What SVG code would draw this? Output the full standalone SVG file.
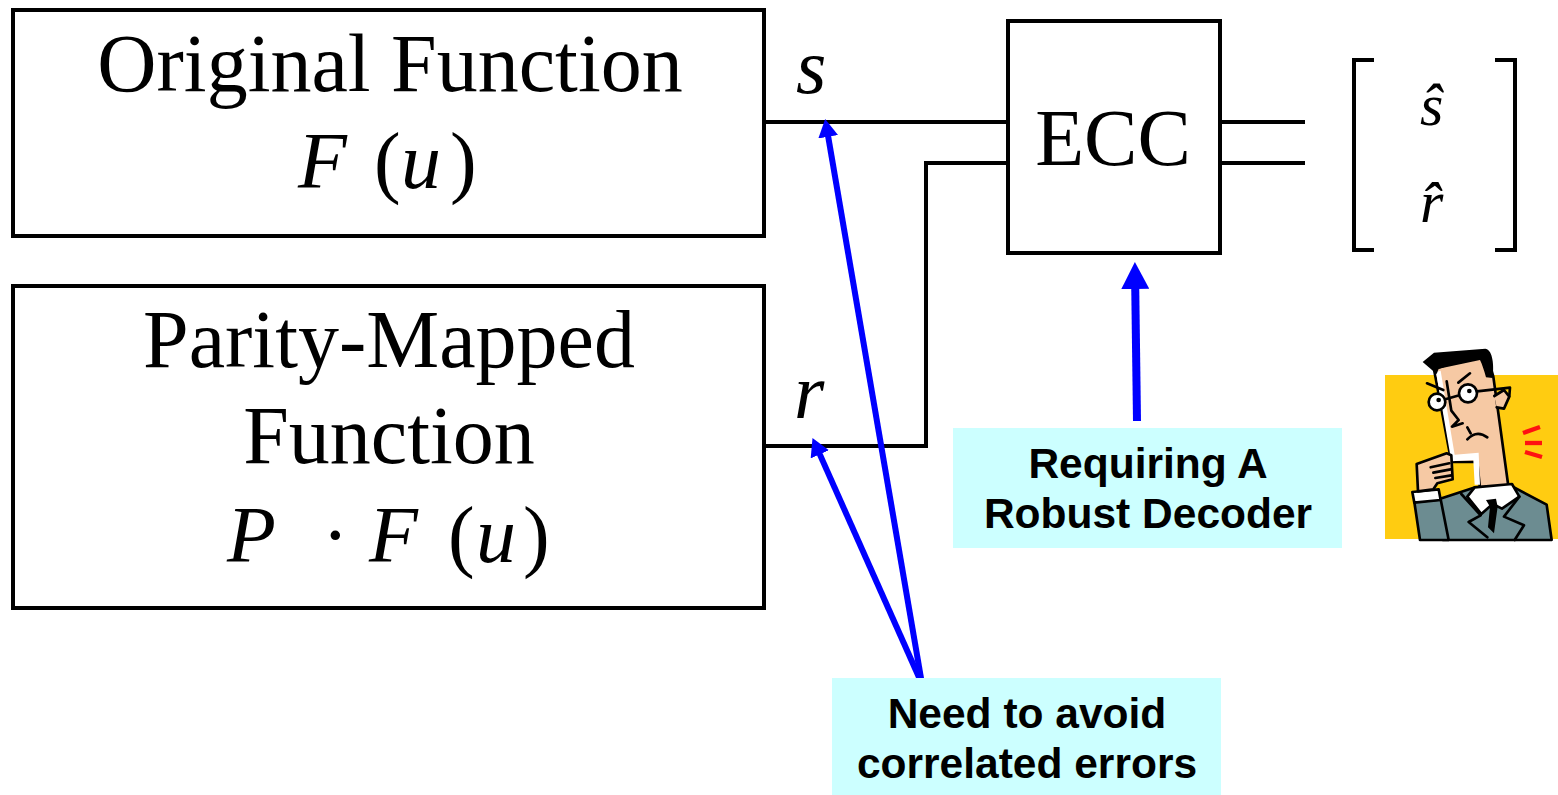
<svg xmlns="http://www.w3.org/2000/svg" width="1558" height="795" viewBox="0 0 1558 795">
  <style>
    .box { fill: #ffffff; stroke: #000000; stroke-width: 4; }
    .wire { fill: none; stroke: #000000; stroke-width: 4; stroke-linejoin: miter; }
    .ptr { fill: none; stroke: #0000ff; stroke-width: 6; }
    .ptr-big { fill: none; stroke: #0000ff; stroke-width: 8; }
    .serif { font-family: "Liberation Serif", "Times New Roman", serif; fill: #000000; }
    .math { font-family: "Liberation Serif", "Times New Roman", serif; font-style: italic; fill: #000000; }
    .note-bg { fill: #ccffff; }
    .note { font-family: "Liberation Sans", Arial, sans-serif; font-weight: bold; font-size: 42.5px; fill: #000000; text-anchor: middle; }
    .ink { stroke: #000000; stroke-width: 8; stroke-linejoin: round; stroke-linecap: round; }
  </style>
  <defs>
    <marker id="head" viewBox="0 0 18 20" refX="3" refY="10" markerWidth="18" markerHeight="20" markerUnits="userSpaceOnUse" orient="auto">
      <path d="M0,0 L18,10 L0,20 Z" fill="#0000ff"/>
    </marker>
    <marker id="head-big" viewBox="0 0 27 28" refX="4" refY="14" markerWidth="27" markerHeight="28" markerUnits="userSpaceOnUse" orient="auto">
      <path d="M0,0 L27,14 L0,28 Z" fill="#0000ff"/>
    </marker>
  </defs>

  <rect width="1558" height="795" fill="#ffffff"/>

  <!-- signal wires and pointers -->
  <g id="connectors">
    <path class="wire" d="M764,122 L1008,122"/>
    <path class="wire" d="M764,446 L926,446 L926,163 L1008,163"/>
    <path class="wire" d="M1220,122 L1305,122"/>
    <path class="wire" d="M1220,163 L1305,163"/>
    <line class="ptr" x1="922" y1="684" x2="827.7" y2="133.8" marker-end="url(#head)"/>
    <line class="ptr" x1="922" y1="684" x2="818.6" y2="451.6" marker-end="url(#head)"/>
    <line class="ptr-big" x1="1137" y1="421" x2="1135.2" y2="285" marker-end="url(#head-big)"/>
  </g>

  <g id="original-function">
    <rect class="box" x="13" y="10" width="751" height="226"/>
    <text class="serif" x="390" y="91" font-size="82" text-anchor="middle">Original Function</text>
    <text class="serif" x="298" y="188" font-size="80"><tspan font-style="italic">F</tspan><tspan x="374">(</tspan><tspan x="401" font-style="italic">u</tspan><tspan x="450">)</tspan></text>
  </g>

  <g id="parity-mapped-function">
    <rect class="box" x="13" y="286" width="751" height="322"/>
    <text class="serif" x="389" y="367" font-size="82" text-anchor="middle">Parity-Mapped</text>
    <text class="serif" x="389" y="463" font-size="82" text-anchor="middle">Function</text>
    <text class="serif" x="227" y="562" font-size="80"><tspan font-style="italic">P</tspan><tspan x="322">·</tspan><tspan x="369" font-style="italic">F</tspan><tspan x="448">(</tspan><tspan x="476" font-style="italic">u</tspan><tspan x="523">)</tspan></text>
  </g>

  <g id="label-s">
    <text class="math" x="796" y="93" font-size="78">s</text>
  </g>
  <g id="label-r">
    <text class="math" x="794" y="418" font-size="78">r</text>
  </g>

  <g id="ecc">
    <rect class="box" x="1008" y="21" width="212" height="232"/>
    <text class="serif" x="1113" y="165" font-size="80" text-anchor="middle">ECC</text>
  </g>

  <g id="decoded-vector">
    <path class="wire" d="M1374,60 L1354,60 L1354,250 L1374,250"/>
    <path class="wire" d="M1495,60 L1515,60 L1515,250 L1495,250"/>
    <text class="math" x="1420" y="125" font-size="60">ŝ</text>
    <text class="math" x="1420" y="222" font-size="60">r̂</text>
  </g>

  <g id="note-decoder">
    <rect class="note-bg" x="953" y="428" width="389" height="120"/>
    <text class="note" x="1148" y="478">Requiring A</text>
    <text class="note" x="1148" y="528">Robust Decoder</text>
  </g>

  <g id="note-correlated">
    <rect class="note-bg" x="832" y="678" width="389" height="117"/>
    <text class="note" x="1027" y="728">Need to avoid</text>
    <text class="note" x="1027" y="778">correlated errors</text>
  </g>

  <!-- worried engineer clip art -->
  <g id="thinker" transform="translate(1380 340) scale(0.3333)">
    <rect x="15" y="105" width="525" height="492" fill="#ffcc11"/>
    <!-- face and neck -->
    <path class="ink" d="M162,88 L318,34 L340,110 L385,438 L300,446 L292,366 L214,366 Z" fill="#f6c9a4"/>
    <!-- highlight along cheek and jaw -->
    <path d="M168,96 L182,92 L224,344 L296,338 L300,434 L284,434 L280,360 L214,364 Z" fill="#ffffff"/>
    <!-- ear -->
    <path class="ink" d="M343,168 L372,150 L388,170 L372,206 L350,202" fill="#f6c9a4"/>
    <!-- hair -->
    <path d="M128,66 L162,38 L316,26 C334,28 344,62 338,114 L318,112 C312,90 306,72 300,60 L176,86 L170,102 Z" fill="#000000"/>
    <!-- brows -->
    <line class="ink" x1="141" y1="130" x2="190" y2="150" stroke-width="12"/>
    <line class="ink" x1="235" y1="128" x2="270" y2="100" stroke-width="12"/>
    <!-- glasses -->
    <line class="ink" x1="196" y1="178" x2="238" y2="166"/>
    <path class="ink" d="M291,154 L390,143 L388,168" fill="none"/>
    <circle class="ink" cx="171" cy="186" r="25" fill="#ffffff"/>
    <circle class="ink" cx="264" cy="160" r="27" fill="#ffffff"/>
    <circle cx="176" cy="180" r="7" fill="#000000"/>
    <circle cx="268" cy="153" r="7" fill="#000000"/>
    <!-- nose -->
    <path class="ink" d="M200,124 L214,212 L236,240 L216,260 L248,250" fill="none"/>
    <!-- frown -->
    <path class="ink" d="M262,298 Q290,268 322,292" fill="none"/>
    <line class="ink" x1="262" y1="262" x2="272" y2="280"/>
    <!-- jacket -->
    <path class="ink" d="M176,478 L286,442 L398,440 L500,494 L515,600 L190,600 Z" fill="#6c8c91"/>
    <!-- shirt collar -->
    <path class="ink" d="M284,442 L396,432 L418,470 L366,506 L338,492 L304,522 L262,470 Z" fill="#ffffff"/>
    <!-- tie -->
    <path d="M318,480 L348,476 L353,500 L342,580 L324,562 L330,500 Z" fill="#000000"/>
    <!-- lapels -->
    <path class="ink" d="M244,462 L302,526 L266,546 L322,592" fill="none"/>
    <path class="ink" d="M418,470 L372,530 L432,556 L404,600" fill="none"/>
    <circle cx="160" cy="515" r="7" fill="#000000"/>
    <!-- raised sleeve -->
    <path class="ink" d="M103,486 L182,478 L206,600 L120,600 Z" fill="#6c8c91"/>
    <path class="ink" d="M97,456 L176,448 L182,480 L103,488 Z" fill="#ffffff"/>
    <!-- hand at chin -->
    <path class="ink" d="M110,372 L200,340 L214,346 L218,418 L172,430 L160,448 L114,454 Z" fill="#f6c9a4"/>
    <line class="ink" x1="152" y1="382" x2="208" y2="370"/>
    <line class="ink" x1="160" y1="398" x2="212" y2="388"/>
    <line class="ink" x1="166" y1="414" x2="214" y2="406"/>
    <!-- alarm strokes -->
    <g stroke="#ff1111" stroke-width="13" stroke-linecap="butt">
      <line x1="429" y1="279" x2="480" y2="261"/>
      <line x1="435" y1="309" x2="486" y2="309"/>
      <line x1="435" y1="336" x2="486" y2="351"/>
    </g>
  </g>
</svg>
